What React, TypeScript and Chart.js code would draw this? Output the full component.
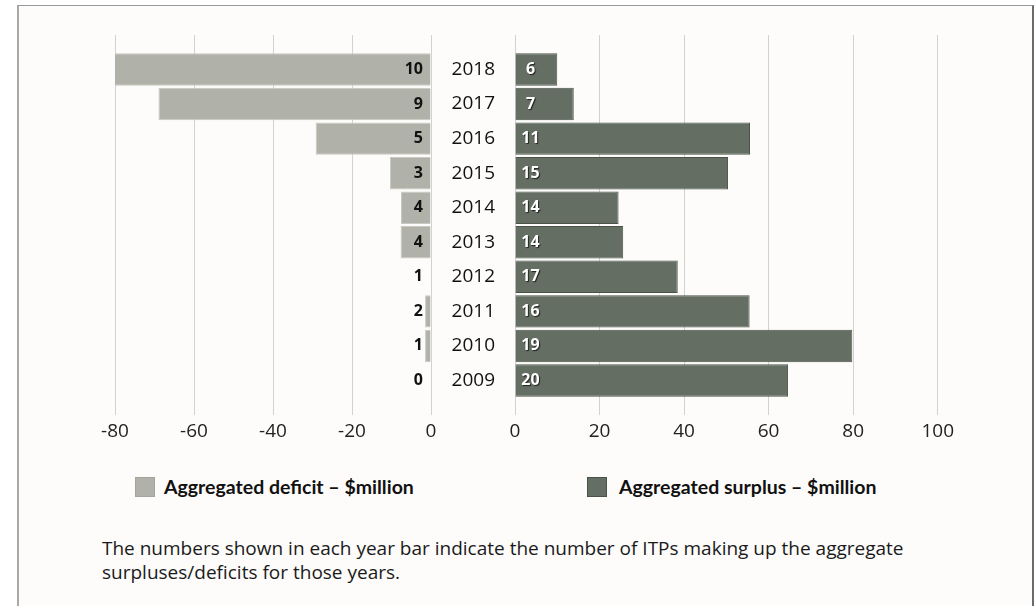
import React, { useEffect, useRef } from "react";
import { Chart, registerables } from "chart.js";

Chart.register(...registerables);

const years = ["2018", "2017", "2016", "2015", "2014", "2013", "2012", "2011", "2010", "2009"];
const deficitValues = [-80.3, -69, -29.2, -10.4, -7.6, -7.7, 0, -1.5, -1.5, 0];
const surplusValues = [10, 13.9, 55.6, 50.4, 24.5, 25.6, 38.5, 55.5, 79.8, 64.6];
const deficitCounts = [10, 9, 5, 3, 4, 4, 1, 2, 1, 0];
const surplusCounts = [6, 7, 11, 15, 14, 14, 17, 16, 19, 20];
const deficitTicks = [-80, -60, -40, -20, 0];
const surplusTicks = [0, 20, 40, 60, 80, 100];

const paddedLabels = ["", ...years, ""];
const pad = (arr: number[]) => [null, ...arr, null];

const DEFICIT_FILL = "#b0b1a8";
const DEFICIT_BORDER = "#c9c9c2";
const SURPLUS_FILL = "#656e62";
const SURPLUS_BORDER = "#4b5349";
const GRID = "#d2d2d2";
const NUM_FONT = '"Open Sans", "DejaVu Sans", sans-serif';
const TEXT_FONT = 'Lato, "Open Sans", sans-serif';

function countPlugin(id: string, counts: number[], side: "left" | "right") {
  return {
    id,
    afterDatasetsDraw(chart: any) {
      const ctx = chart.ctx;
      const x0 = chart.scales.x.getPixelForValue(0);
      ctx.save();
      ctx.font = `bold 16px ${NUM_FONT}`;
      ctx.textBaseline = "middle";
      counts.forEach((c, i) => {
        const y = chart.scales.y.getPixelForValue(i + 1);
        if (side === "left") {
          ctx.textAlign = "right";
          ctx.fillStyle = "#111111";
          ctx.fillText(String(c), x0 - 8, y);
        } else {
          ctx.textAlign = "center";
          ctx.fillStyle = "#ffffff";
          ctx.shadowColor = "rgba(0,0,0,0.7)";
          ctx.shadowOffsetX = 1;
          ctx.shadowOffsetY = 1;
          ctx.shadowBlur = 1;
          ctx.fillText(String(c), x0 + 15.5, y);
        }
      });
      ctx.restore();
    },
  };
}

function makeXScale(min: number, max: number, tickList: number[]) {
  return {
    type: "linear",
    min,
    max,
    afterBuildTicks: (axis: any) => {
      axis.ticks = tickList.map((v) => ({ value: v }));
    },
    afterFit: (axis: any) => {
      axis.height = 30;
    },
    grid: { color: GRID, lineWidth: 1, drawTicks: false },
    border: { display: false },
    ticks: {
      padding: 5,
      color: "#222222",
      font: { family: NUM_FONT, size: 19 },
      maxRotation: 0,
      autoSkip: false,
    },
  };
}

export default function App() {
  const leftRef = useRef<HTMLCanvasElement>(null);
  const rightRef = useRef<HTMLCanvasElement>(null);

  useEffect(() => {
    const left = new Chart(leftRef.current as HTMLCanvasElement, {
      type: "bar",
      data: {
        labels: paddedLabels,
        datasets: [
          {
            data: pad(deficitValues) as any,
            backgroundColor: DEFICIT_FILL,
            borderColor: DEFICIT_BORDER,
            borderWidth: 1,
            barPercentage: 0.94,
            categoryPercentage: 1,
          },
        ],
      },
      options: {
        indexAxis: "y",
        animation: false,
        responsive: false,
        maintainAspectRatio: false,
        layout: { padding: { left: 35, right: 20, top: 0, bottom: 0 } },
        scales: {
          x: makeXScale(-80, 0, deficitTicks) as any,
          y: { type: "category", offset: false, display: false, grid: { display: false } },
        },
        plugins: { legend: { display: false }, tooltip: { enabled: false } },
      },
      plugins: [countPlugin("deficitCounts", deficitCounts, "left")],
    });

    const right = new Chart(rightRef.current as HTMLCanvasElement, {
      type: "bar",
      data: {
        labels: paddedLabels,
        datasets: [
          {
            data: pad(surplusValues) as any,
            backgroundColor: SURPLUS_FILL,
            borderColor: SURPLUS_BORDER,
            borderWidth: 1,
            barPercentage: 0.94,
            categoryPercentage: 1,
          },
        ],
      },
      options: {
        indexAxis: "y",
        animation: false,
        responsive: false,
        maintainAspectRatio: false,
        layout: { padding: { left: 0, right: 20, top: 0, bottom: 0 } },
        scales: {
          x: makeXScale(0, 100, surplusTicks) as any,
          y: {
            type: "category",
            offset: false,
            position: "left",
            grid: { display: false, drawTicks: false },
            border: { display: false },
            afterFit: (axis: any) => {
              axis.width = 75;
              axis.paddingTop = 0;
              axis.paddingBottom = 0;
            },
            ticks: {
              padding: 20,
              color: "#111111",
              font: { family: NUM_FONT, size: 19 },
              autoSkip: false,
            },
          } as any,
        },
        plugins: { legend: { display: false }, tooltip: { enabled: false } },
      },
      plugins: [countPlugin("surplusCounts", surplusCounts, "right")],
    });

    return () => {
      left.destroy();
      right.destroy();
    };
  }, []);

  return (
    <div
      style={{
        position: "fixed",
        left: 0,
        top: 0,
        width: 1034,
        height: 606,
        background: "#ffffff",
        overflow: "hidden",
      }}
    >
      <div
        style={{
          position: "absolute",
          left: 17,
          top: 5,
          width: 1013,
          height: 700,
          background: "#fdfcfa",
          borderTop: "1px solid #9a9a9a",
          borderLeft: "2px solid #a8a8a8",
          borderRight: "2px solid #6a6a6a",
        }}
      />
      <canvas
        ref={leftRef}
        width={371}
        height={410}
        style={{ position: "absolute", left: 80, top: 35, width: 371, height: 410 }}
      />
      <canvas
        ref={rightRef}
        width={519}
        height={410}
        style={{ position: "absolute", left: 440, top: 35, width: 519, height: 410 }}
      />
      <div
        style={{
          position: "absolute",
          left: 135,
          top: 477,
          width: 18,
          height: 18,
          background: DEFICIT_FILL,
          border: "1px solid #a3a49b",
        }}
      />
      <div
        style={{
          position: "absolute",
          left: 164,
          top: 475,
          font: `bold 19.5px ${TEXT_FONT}`,
          lineHeight: "24px",
          color: "#111111",
          whiteSpace: "nowrap",
        }}
      >
        Aggregated deficit – $million
      </div>
      <div
        style={{
          position: "absolute",
          left: 587,
          top: 477,
          width: 18,
          height: 18,
          background: SURPLUS_FILL,
          border: "1px solid #4b5349",
        }}
      />
      <div
        style={{
          position: "absolute",
          left: 619,
          top: 475,
          font: `bold 19.5px ${TEXT_FONT}`,
          lineHeight: "24px",
          color: "#111111",
          whiteSpace: "nowrap",
        }}
      >
        Aggregated surplus – $million
      </div>
      <div
        style={{
          position: "absolute",
          left: 102,
          top: 536,
          font: `19px "Open Sans", sans-serif`,
          lineHeight: "24px",
          color: "#1a1a1a",
          whiteSpace: "nowrap",
        }}
      >
        The numbers shown in each year bar indicate the number of ITPs making up the aggregate
        <br />
        surpluses/deficits for those years.
      </div>
    </div>
  );
}
